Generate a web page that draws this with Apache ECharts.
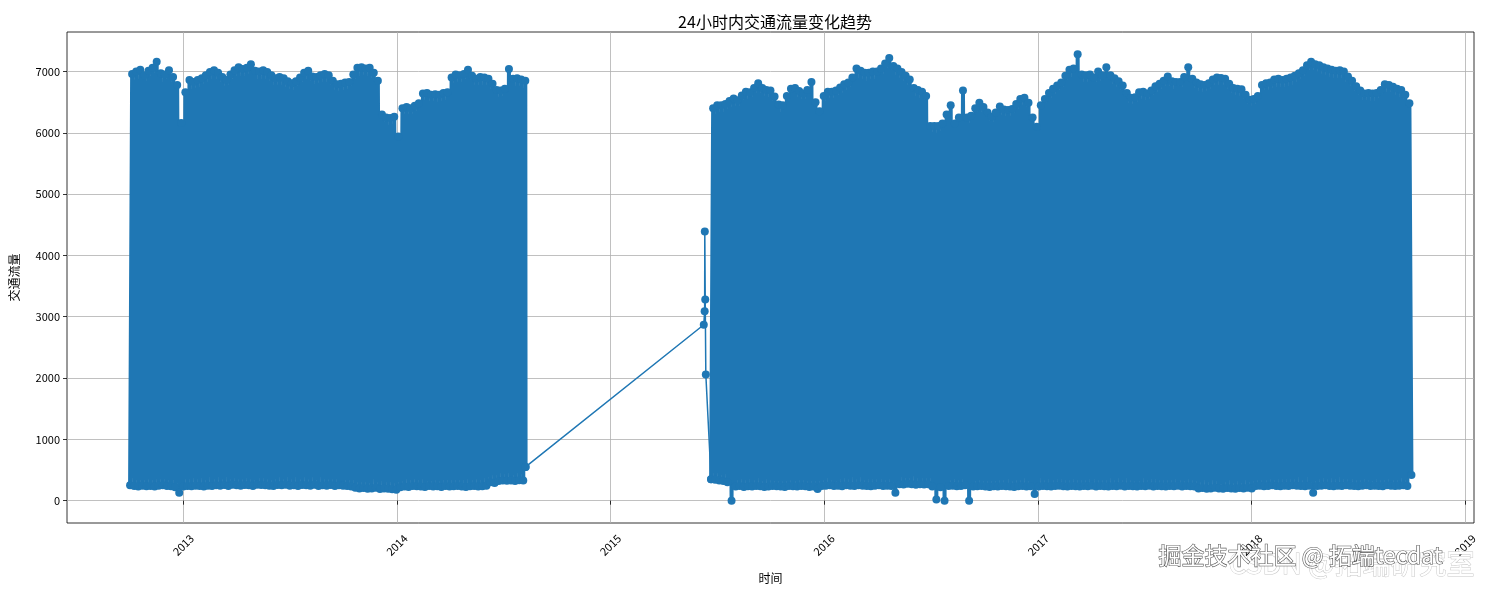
<!DOCTYPE html>
<html><head><meta charset="utf-8">
<script src="https://cdn.jsdelivr.net/npm/echarts@6/dist/echarts.min.js"></script>
<style>html,body{margin:0;padding:0;background:#fff}#c{width:1488px;height:590px}</style>
</head><body><div id="c"></div>
<script>
// ---- data (weekly max / min of hourly traffic volume) ----
const titleText = '24小时内交通流量变化趋势';
const yName = '交通流量';
const xName = '时间';
const yTicks = [0, 1000, 2000, 3000, 4000, 5000, 6000, 7000];
const xTickYears = [2013, 2014, 2015, 2016, 2017, 2018, 2019];

const seg1Start = '2012-10-02';
const seg1Top = [6960,7000,7030,6940,7010,7060,7160,6970,6950,7020,6910,6780,6160,6660,6860,6830,6860,6890,6940,6990,
  7020,6980,6910,6860,6950,7020,7070,7040,7060,7120,7010,7000,7020,6990,6940,6890,6910,6890,6840,6810,
  6840,6900,6980,7010,6920,6910,6940,6960,6940,6850,6790,6800,6820,6830,6950,7060,7070,7050,7060,6980,
  6850,6300,6250,6240,6260,5940,6400,6420,6400,6440,6480,6640,6650,6620,6630,6620,6650,6660,6900,6950,
  6940,6960,7030,6930,6880,6910,6900,6880,6800,6700,6690,6720,7040,6880,6890,6870,6850];
const seg1Bottom = [250,240,230,245,235,240,230,245,250,240,235,220,130,230,240,235,245,240,230,245,
  240,250,245,255,240,260,250,245,255,250,240,260,255,250,245,240,255,250,260,245,
  250,240,255,250,245,260,240,250,245,255,240,250,245,240,230,210,200,205,195,200,
  210,190,200,195,185,180,220,230,225,240,235,230,225,240,230,235,225,240,230,235,
  240,230,225,235,240,230,235,245,300,290,320,330,325,330,320,335,330];
const seg1Last = ['2014-08-08T23:00', 550];

const gapTimes = ['2015-06-09T12:00', '2015-06-11T00:00', '2015-06-11T06:00', '2015-06-12T00:00', '2015-06-13T00:00'];
const gapValues = [2870, 3090, 4390, 3280, 2060];

const seg2Start = '2015-06-22';
const seg2Top = [6400,6450,6450,6470,6520,6560,6530,6610,6670,6660,
  6730,6810,6730,6700,6690,6590,6460,6450,6600,6720,
  6730,6680,6640,6700,6830,6500,6350,6600,6670,6670,
  6690,6740,6790,6820,6900,7050,7010,6980,6980,7000,
  7000,7050,7130,7220,7090,7050,6990,6930,6870,6730,
  6700,6670,6600,6110,6110,6110,6150,6300,6450,6150,
  6250,6690,6250,6280,6400,6490,6420,6330,6260,6330,
  6430,6380,6370,6390,6470,6550,6570,6490,6250,6100,
  6450,6550,6650,6720,6770,6820,6930,7030,7050,7280,
  6950,6940,6950,6900,7000,6940,7070,6940,6890,6840,
  6770,6650,6570,6580,6660,6670,6640,6690,6760,6800,
  6850,6920,6840,6830,6830,6910,7070,6880,6820,6790,
  6780,6810,6870,6900,6895,6880,6800,6730,6720,6710,
  6620,6540,6550,6600,6780,6810,6820,6870,6880,6860,
  6880,6900,6930,6970,7020,7100,7160,7120,7100,7070,
  7050,7030,7010,7020,7000,6920,6850,6760,6690,6640,
  6650,6640,6650,6700,6790,6780,6750,6720,6700,6620,
  6480];
const seg2Bottom = [350,340,330,320,300,0,
  230,240,225,235,230,240,235,225,230,240,235,230,225,240,235,230,240,235,225,230,
  190,
  240,245,250,240,245,235,250,245,240,250,245,240,235,245,250,240,245,240,
  130,
  270,265,275,270,260,270,265,270,
  230,20,220,0,
  240,245,235,240,250,
  0,
  230,235,240,230,225,235,230,240,235,230,225,235,240,230,235,
  110,
  230,240,235,230,240,245,235,230,240,235,230,240,235,245,230,240,235,230,240,235,
  245,230,240,235,230,240,235,245,230,240,235,230,240,235,245,230,240,235,230,
  200,205,195,200,210,200,195,205,200,195,205,200,210,200,
  240,245,235,240,250,240,235,245,240,250,245,240,235,245,
  130,
  240,245,250,240,235,245,240,250,245,240,235,245,250,240,245,240,235,250,245,240,245,250,240];
const seg2Last = ['2018-09-30T23:00', 420];

// ---- build series ----
const DAY = 864e5;
const parseT = s => Date.parse(s.length <= 10 ? s + 'T00:00:00Z' : s + ':00Z');
function weekly(start, tops, bottoms) {
  const t0 = parseT(start), out = [];
  for (let i = 0; i < tops.length; i++) {
    out.push([t0 + i * 7 * DAY, bottoms[i]]);
    out.push([t0 + (i * 7 + 3.5) * DAY, tops[i]]);
  }
  return out;
}
const s1 = weekly(seg1Start, seg1Top, seg1Bottom);
s1.push([parseT(seg1Last[0]), seg1Last[1]]);
const s2 = weekly(seg2Start, seg2Top, seg2Bottom);
s2.push([parseT(seg2Last[0]), seg2Last[1]]);
const bridge = [[parseT(seg1Last[0]), seg1Last[1]]]
  .concat(gapTimes.map((t, i) => [parseT(t), gapValues[i]]))
  .concat([s2[0]]);

const BLUE = '#1f77b4';
const FONT = "'Noto Sans CJK SC', 'Noto Sans', sans-serif";
const xTicks = xTickYears.map(y => Date.UTC(y, 0, 1));
const xMin = parseT('2012-06-16T05:00');
const xMax = parseT('2019-01-15T21:00');

function lineSeries(data, width) {
  return {
    type: 'line', data, symbol: 'circle', symbolSize: 8, showSymbol: true,
    lineStyle: { color: BLUE, width }, itemStyle: { color: BLUE },
    silent: true, animation: false, emphasis: { disabled: true }, z: 3
  };
}

const chart = echarts.init(document.getElementById('c'), null, { renderer: 'canvas' });
chart.setOption({
  animation: false,
  backgroundColor: '#fff',
  title: {
    text: titleText, left: 770, top: 9, textAlign: 'center',
    textStyle: { fontSize: 16, fontWeight: 'normal', color: '#000', fontFamily: FONT }
  },
  grid: { left: 67, right: 14, top: 32, bottom: 67, show: true, borderColor: '#000', borderWidth: 0.8, backgroundColor: 'transparent' },
  xAxis: {
    type: 'value', min: xMin, max: xMax, scale: true,
    name: xName, nameLocation: 'middle', nameGap: 49,
    nameTextStyle: { fontSize: 12, color: '#000', fontFamily: FONT },
    axisLine: { show: false },
    axisTick: { show: true, customValues: xTicks, length: 4, lineStyle: { color: '#000', width: 0.8 } },
    axisLabel: {
      customValues: xTicks, rotate: 45, align: 'center', verticalAlign: 'middle', margin: 22,
      fontSize: 11, color: '#000', fontFamily: FONT,
      formatter: v => String(new Date(v).getUTCFullYear())
    },
    splitLine: { show: true, lineStyle: { color: '#b0b0b0', width: 0.8 } }
  },
  yAxis: {
    type: 'value', min: -364, max: 7644,
    name: yName, nameLocation: 'middle', nameGap: 47, nameRotate: 90,
    nameTextStyle: { fontSize: 12, color: '#000', fontFamily: FONT },
    axisLine: { show: false },
    axisTick: { show: true, customValues: yTicks, length: 4, lineStyle: { color: '#000', width: 0.8 } },
    axisLabel: { customValues: yTicks, margin: 7, fontSize: 11, color: '#000', fontFamily: FONT,
      formatter: v => String(v) },
    splitLine: { show: true, lineStyle: { color: '#b0b0b0', width: 0.8 } }
  },
  series: [lineSeries(s1, 4), lineSeries(bridge, 1.5), lineSeries(s2, 4)],
  graphic: [
    { type: 'text', left: 1228, top: 549, z: 100,
      style: { text: 'CSDN @拓端研究室', font: '28px ' + FONT, fill: '#ffffff', stroke: '#c8c8c8', lineWidth: 1 } },
    { type: 'text', left: 1158, top: 543, z: 101,
      style: { text: '掘金技术社区 @ 拓端tecdat', font: '23px ' + FONT, fill: '#ffffff', stroke: '#555555', lineWidth: 1.2 } }
  ]
});
</script>
</body></html>
